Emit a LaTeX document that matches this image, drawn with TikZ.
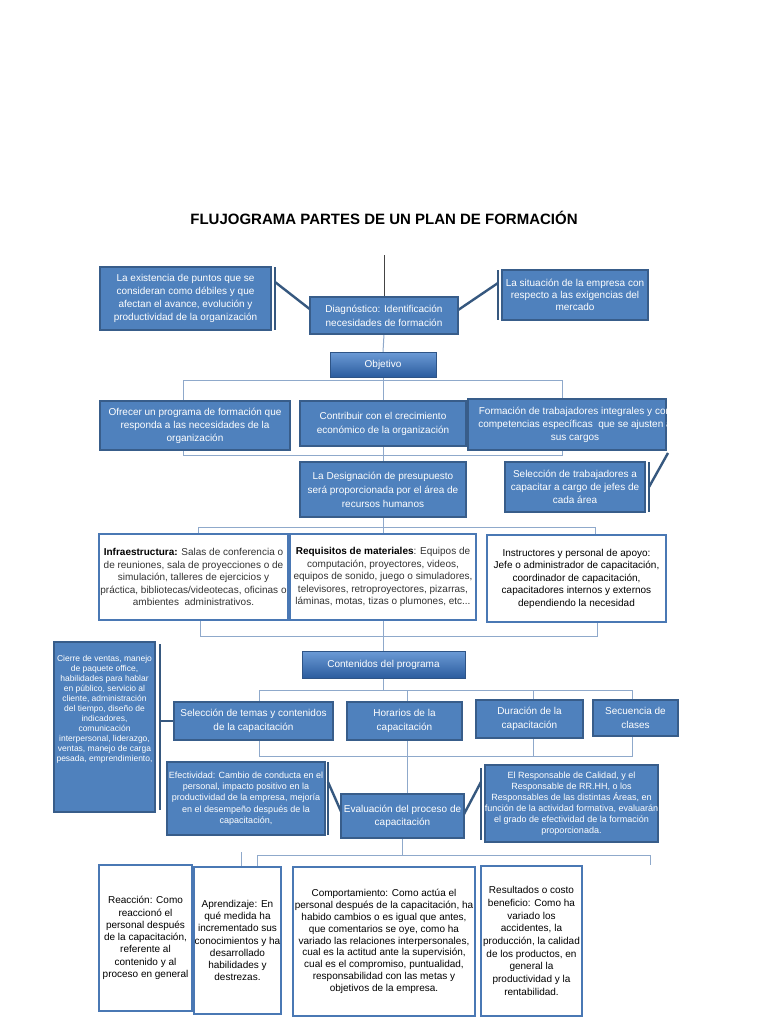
\documentclass[tikz,border=0pt]{standalone}
\usepackage{fontspec}
\setmainfont{Liberation Sans}
\usetikzlibrary{calc}
\definecolor{bfill}{HTML}{4F81BD}
\definecolor{bdark}{HTML}{385D8A}
\definecolor{ddark}{HTML}{36587F}
\definecolor{gtop}{HTML}{6C9BD6}
\definecolor{gbot}{HTML}{2B5C9E}
\definecolor{gdark}{HTML}{2E5486}
\definecolor{wline}{HTML}{4A78B4}
\definecolor{lconn}{HTML}{8FA9CB}
\definecolor{tgray}{HTML}{333333}
\definecolor{topl}{HTML}{444444}
\pgfdeclarelayer{bg}
\pgfsetlayers{bg,main}
\tikzset{
  every node/.style={inner sep=0pt, outer sep=0pt},
  bbox/.style={draw=bdark, line width=1.3pt, fill=bfill, text=white, align=center, font=\fontsize{10}{13}\selectfont},
  gbox/.style={draw=gdark, line width=0.8pt, top color=gtop, bottom color=gbot, text=white, align=center, font=\fontsize{10}{13}\selectfont},
  wbox/.style={draw=wline, line width=2pt, fill=white, text=tgray, align=center, font=\fontsize{10}{12.5}\selectfont},
  btext/.style={text=white, align=center, font=\fontsize{10}{13}\selectfont},
  conn/.style={draw=lconn, line width=1pt},
  dconn/.style={draw=ddark, line width=2.4pt},
  sideline/.style={draw=ddark, line width=2.2pt},
  topline/.style={draw=topl, line width=1pt},
  titlestyle/.style={font=\fontsize{15}{18}\selectfont\bfseries, text=black},
}
\begin{document}
\begin{tikzpicture}[x=1pt,y=-1pt]
\useasboundingbox (0,0) rectangle (768,1024);

\node[titlestyle] (title) at (384,218) {FLUJOGRAMA PARTES DE UN PLAN DE FORMACIÓN};

% top row
\node[bbox, minimum width=171, minimum height=63] (A) at (185.5,298.5) {La existencia de puntos que se\\consideran como débiles y que\\afectan el avance, evolución y\\productividad de la organización};
\node[bbox, font=\fontsize{10}{14}\selectfont, minimum width=148, minimum height=37] (B) at (384,315.5) {Diagnóstico: Identificación\\necesidades de formación};
\node[bbox, font=\fontsize{10}{12}\selectfont, minimum width=146, minimum height=50] (C) at (575,295) {La situación de la empresa con\\respecto a las exigencias del\\mercado};

\node[gbox, minimum width=106, minimum height=25] (Obj) at (383,364.5) {Objetivo};

% second row
\node[bbox, minimum width=190, minimum height=49] (D) at (195,425.5) {Ofrecer un programa de formación que\\responda a las necesidades de la\\organización};
\node[bbox, font=\fontsize{10}{14}\selectfont, minimum width=166, minimum height=45] (E) at (383,423.5) {Contribuir con el crecimiento\\económico de la organización};
\node[bbox, minimum width=198, minimum height=51] (F) at (567,424.5) {};
\begin{scope}
  \clip ([xshift=-1]F.south west) rectangle ([xshift=1]F.north east);
  \node[btext] (Ft) at ([xshift=8]F.center) {Formación de trabajadores integrales y con\\competencias específicas\ \ que se ajusten a\\sus cargos};
\end{scope}

\node[bbox, font=\fontsize{10}{14}\selectfont, minimum width=166, minimum height=55] (Des) at (383,489.5) {La Designación de presupuesto\\será proporcionada por el área de\\recursos humanos};
\node[bbox, minimum width=140, minimum height=50] (G) at (575,487) {Selección de trabajadores a\\capacitar a cargo de jefes de\\cada área};

% third row
\node[wbox, minimum width=189, minimum height=86] (H) at (193.5,577) {{\color{black}\textbf{Infraestructura:}} Salas de conferencia o\\de reuniones, sala de proyecciones o de\\simulación, talleres de ejercicios y\\práctica, bibliotecas/videotecas, oficinas o\\ambientes\ \ administrativos.};
\node[wbox, minimum width=186, minimum height=86] (I) at (383,577) {{\color{black}\textbf{Requisitos de materiales}}: Equipos de\\computación, proyectores, videos,\\equipos de sonido, juego o simuladores,\\televisores, retroproyectores, pizarras,\\láminas, motas, tizas o plumones, etc...};
\node[wbox, text=black, minimum width=179, minimum height=87] (J) at (576.5,578.5) {Instructores y personal de apoyo:\\Jefe o administrador de capacitación,\\coordinador de capacitación,\\capacitadores internos y externos\\dependiendo la necesidad};

% left tall box
\node[bbox, minimum width=101, minimum height=170] (K) at (104.5,727) {};
\node[btext, font=\fontsize{8.5}{10}\selectfont, anchor=north] (Kt) at ([yshift=-13]K.north) {Cierre de ventas, manejo\\de paquete office,\\habilidades para hablar\\en público, servicio al\\cliente, administración\\del tiempo, diseño de\\indicadores,\\comunicación\\interpersonal, liderazgo,\\ventas, manejo de carga\\pesada, emprendimiento,};

\node[gbox, minimum width=163, minimum height=27] (Cont) at (383.5,664.5) {Contenidos del programa};

% fourth row
\node[bbox, font=\fontsize{10}{14.5}\selectfont, minimum width=159, minimum height=38] (L) at (253.5,721) {Selección de temas y contenidos\\de la capacitación};
\node[bbox, font=\fontsize{10}{14.5}\selectfont, minimum width=115, minimum height=38] (M) at (404.5,721) {Horarios de la\\capacitación};
\node[bbox, font=\fontsize{10}{14.5}\selectfont, minimum width=107, minimum height=38] (N) at (529.5,719) {Duración de la\\capacitación};
\node[bbox, font=\fontsize{10}{14.5}\selectfont, minimum width=85, minimum height=36] (O) at (635.5,718) {Secuencia de\\clases};

% evaluation row
\node[bbox, minimum width=158, minimum height=73, font=\fontsize{9}{11.3}\selectfont] (Q) at (246,798.5) {Efectividad: Cambio de conducta en el\\personal, impacto positivo en la\\productividad de la empresa, mejoría\\en el desempeño después de la\\capacitación,};
\node[bbox, minimum width=123, minimum height=44] (P) at (402.5,816) {Evaluación del proceso de\\capacitación};
\node[bbox, minimum width=171, minimum height=77, font=\fontsize{9}{11.1}\selectfont] (R) at (571.5,803.5) {El Responsable de Calidad, y el\\Responsable de RR.HH, o los\\Responsables de las distintas Áreas, en\\función de la actividad formativa, evaluarán\\el grado de efectividad de la formación\\proporcionada.};

% bottom row
\node[wbox, text=black, font=\fontsize{10}{12.3}\selectfont, minimum width=93, minimum height=146] (S) at (145.5,938) {Reacción: Como\\reaccionó el\\personal después\\de la capacitación,\\referente al\\contenido y al\\proceso en general};
\node[wbox, text=black, font=\fontsize{10}{12.3}\selectfont, minimum width=87, minimum height=147] (T) at (237.5,940.5) {Aprendizaje: En\\qué medida ha\\incrementado sus\\conocimientos y ha\\desarrollado\\habilidades y\\destrezas.};
\node[wbox, text=black, font=\fontsize{10}{11.8}\selectfont, minimum width=182, minimum height=149] (U) at (384,941.5) {Comportamiento: Como actúa el\\personal después de la capacitación, ha\\habido cambios o es igual que antes,\\que comentarios se oye, como ha\\variado las relaciones interpersonales,\\cual es la actitud ante la supervisión,\\cual es el compromiso, puntualidad,\\responsabilidad con las metas y\\objetivos de la empresa.};
\node[wbox, text=black, font=\fontsize{10}{12.7}\selectfont, minimum width=101, minimum height=150] (V) at (531.5,941) {Resultados o costo\\beneficio: Como ha\\variado los\\accidentes, la\\producción, la calidad\\de los productos, en\\general la\\productividad y la\\rentabilidad.};

% side lines
\draw[sideline] ([xshift=4]A.north east) -- ([xshift=4]A.south east);
\draw[sideline] ([xshift=-4]C.north west) -- ([xshift=-4]C.south west);
\draw[sideline] ([xshift=4]G.north east) -- ([xshift=4]G.south east);
\draw[sideline] ([xshift=5,yshift=-2]K.north east) -- ([xshift=5,yshift=2]K.south east);
\draw[sideline] ([xshift=3]Q.north east) -- ([xshift=3]Q.south east);
\draw[sideline] ([xshift=-4,yshift=-3]R.north west) -- ([xshift=-4,yshift=2]R.south west);

\begin{pgfonlayer}{bg}
  \fill[white] (0,0) rectangle (768,1024);
  \coordinate (top0) at (384,255);
  \draw[topline] (top0) -- (B.north);
  \draw[dconn] ([xshift=4,yshift=-15]A.north east) -- ([xshift=8]B.west);
  \draw[dconn] ([xshift=-8]B.east) -- ([xshift=-4,yshift=-13]C.north west);
  \draw[conn] (B.south) -- (Obj.north);
  \draw[conn] (Obj.south) -- (E.north);
  \coordinate (b1l) at (183,380); \coordinate (b1r) at (562,380);
  \draw[conn] (b1l |- D.north) -- (b1l) -- (b1r) -- (b1r |- F.north);
  \coordinate (b2l) at (183,455); \coordinate (b2r) at (562,455);
  \draw[conn] (b2l |- D.south) -- (b2l) -- (b2r) -- (b2r |- F.south);
  \draw[conn] (E.south) -- (Des.north);
  \draw[dconn] ([xshift=2,yshift=-3]F.south east) -- ([xshift=4]G.east);
  \coordinate (b3l) at (198,527); \coordinate (b3r) at (595,527);
  \draw[conn] (b3l |- H.north) -- (b3l) -- (b3r) -- (b3r |- J.north);
  \draw[conn] (Des.south) -- (Des.south |- I.north);
  \coordinate (b4l) at (200,636); \coordinate (b4r) at (597,636);
  \draw[conn] (b4l |- H.south) -- (b4l) -- (b4r) -- (b4r |- J.south);
  \draw[conn] (I.south) -- (I.south |- Cont.north);
  \coordinate (b5l) at (259,690); \coordinate (b5r) at (632,690);
  \draw[conn] (b5l |- L.north) -- (b5l) -- (b5r) -- (b5r |- O.north);
  \draw[conn] (Cont.south) -- (Cont.south |- b5l);
  \coordinate (d5m) at (407,690); \draw[conn] (d5m) -- (d5m |- M.north);
  \coordinate (d5n) at (533,690); \draw[conn] (d5n) -- (d5n |- N.north);
  \coordinate (b6l) at (259,756); \coordinate (b6r) at (632,756);
  \draw[conn] (b6l |- L.south) -- (b6l) -- (b6r) -- (b6r |- O.south);
  \coordinate (d6m) at (407,756); \draw[conn] (d6m |- M.south) -- (d6m |- P.north);
  \coordinate (d6n) at (533,756); \draw[conn] (d6n |- N.south) -- (d6n);
  \draw[dconn] ([xshift=5]K.east |- L.west) -- (L.west);
  \draw[dconn] ([xshift=3,yshift=-20]Q.north east) -- ([xshift=2]P.west);
  \draw[dconn] ([xshift=-1]P.east) -- ([xshift=-4,yshift=-17]R.north west);
  \coordinate (b7l) at (257,855); \coordinate (b7r) at (650,855); \coordinate (b7e) at (650,865);
  \draw[conn] (b7l |- T.north) -- (b7l) -- (b7r) -- (b7e);
  \draw[conn] (P.south) -- (P.south |- b7l);
  \coordinate (s1) at (241,852); \draw[conn] (s1) -- (s1 |- T.north);
\end{pgfonlayer}
\end{tikzpicture}
\end{document}
